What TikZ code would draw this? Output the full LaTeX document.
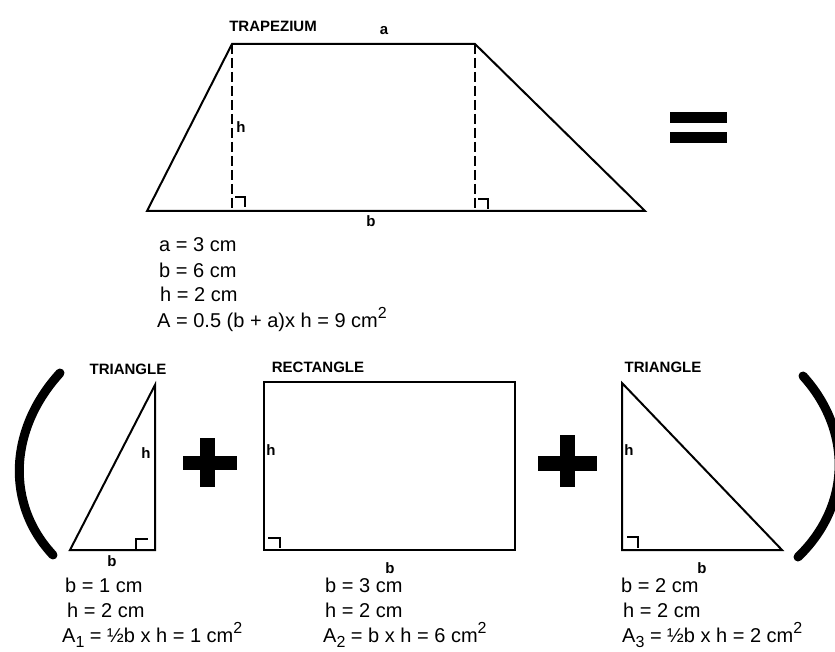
\documentclass[tikz,border=0pt]{standalone}
\usepackage{fontspec}
\setmainfont{Liberation Sans}
\newcommand\mysup[1]{\raisebox{0.45em}{\fontsize{16}{16}\selectfont #1}}
\newcommand\mysub[1]{\raisebox{-0.25em}{\fontsize{16}{16}\selectfont #1}}
\begin{document}
\begin{tikzpicture}[x=1pt,y=-1pt, line join=miter,
 edge/.style={line width=2pt},
 dashv/.style={line width=1.5pt, dash pattern=on 10pt off 4pt},
 rmark/.style={line width=1.6pt},
 title/.style={font=\fontsize{15}{17}\selectfont\bfseries, inner sep=0pt},
 lbl/.style={font=\fontsize{15}{17}\selectfont\bfseries, inner sep=0pt},
 txt/.style={font=\fontsize{20}{22}\selectfont, inner sep=0pt, anchor=west},
 paren/.style={line width=9pt, line cap=round},
 ]
\useasboundingbox (0,0) rectangle (835,652);

% ---------- trapezium ----------
\coordinate (TBL) at (147,211);
\coordinate (TTL) at (232,44);
\coordinate (TTR) at (475,44);
\coordinate (TBR) at (645,211);
\coordinate (HL) at (232,211);
\coordinate (HR) at (475,211);
\draw[edge] (TBL) -- (TTL) -- (TTR) -- (TBR) -- cycle;
\draw[dashv] (TTL) -- (HL);
\draw[dashv] (TTR) -- (HR);
\draw[rmark] (235,197) -- (245,197) -- (245,207);
\draw[rmark] (478,199) -- (488,199) -- (488,209);
\node[title] (ttrap) at (273,26) {TRAPEZIUM};
\node[lbl] (la) at (384,31) {a};
\node[lbl] (lh) at (241,127) {h};
\node[lbl] (lb) at (371,221) {b};

% equals sign
\fill (670,112) rectangle (727,123);
\fill (670,132) rectangle (727,143);

\node[txt] (t1) at (159,245) {a = 3 cm};
\node[txt] (t2) at (159,270) {b = 6 cm};
\node[txt] (t3) at (160,294) {h = 2 cm};
\node[txt] (t4) at (157,319) {A = 0.5 (b + a)x h = 9 cm\mysup{2}};

% ---------- parentheses ----------
\coordinate (P1a) at (60,373);
\coordinate (P1b) at (53,555);
\draw[paren] (P1a) .. controls (8,430) and (6,505) .. (P1b);
\coordinate (P2a) at (803,376);
\coordinate (P2b) at (798,557);
\draw[paren] (P2a) .. controls (852,430) and (852,505) .. (P2b);

% ---------- left triangle ----------
\coordinate (A1) at (155,385);
\coordinate (A2) at (70,550);
\coordinate (A3) at (155,550);
\draw[edge] (A1) -- (A2) -- (A3) -- cycle;
\draw[rmark] (136,549) -- (136,539) -- (148,539);
\node[title] (ttri1) at (128,369) {TRIANGLE};
\node[lbl] (lh1) at (146,453) {h};
\node[lbl] (lb1) at (112,561) {b};

% plus 1
\fill (183,456) rectangle (237,470);
\fill (200,438) rectangle (215,487);

% ---------- rectangle ----------
\coordinate (R1) at (264,382);
\coordinate (R2) at (515,550);
\draw[edge] (R1) rectangle (R2);
\draw[rmark] (268,538) -- (280,538) -- (280,548);
\node[title] (trect) at (318,367) {RECTANGLE};
\node[lbl] (lh2) at (271,450) {h};
\node[lbl] (lb2) at (390,568) {b};

% plus 2
\fill (538,456) rectangle (597,471);
\fill (560,435) rectangle (575,487);

% ---------- right triangle ----------
\coordinate (B1) at (622,383);
\coordinate (B2) at (622,550);
\coordinate (B3) at (782,550);
\draw[edge] (B1) -- (B2) -- (B3) -- cycle;
\draw[rmark] (627,537) -- (638,537) -- (638,548);
\node[title] (ttri2) at (663,367) {TRIANGLE};
\node[lbl] (lh3) at (629,450) {h};
\node[lbl] (lb3) at (702,568) {b};

% ---------- bottom texts ----------
\node[txt] (u1) at (65,585) {b = 1 cm};
\node[txt] (u2) at (67,610) {h = 2 cm};
\node[txt] (u3) at (62,635) {A\mysub{1} = ½b x h = 1 cm\mysup{2}};

\node[txt] (v1) at (325,585) {b = 3 cm};
\node[txt] (v2) at (325,610) {h = 2 cm};
\node[txt] (v3) at (323,635) {A\mysub{2} = b x h = 6 cm\mysup{2}};

\node[txt] (w1) at (621,585) {b = 2 cm};
\node[txt] (w2) at (623,610) {h = 2 cm};
\node[txt] (w3) at (622,635) {A\mysub{3} = ½b x h = 2 cm\mysup{2}};
\end{tikzpicture}
\end{document}
